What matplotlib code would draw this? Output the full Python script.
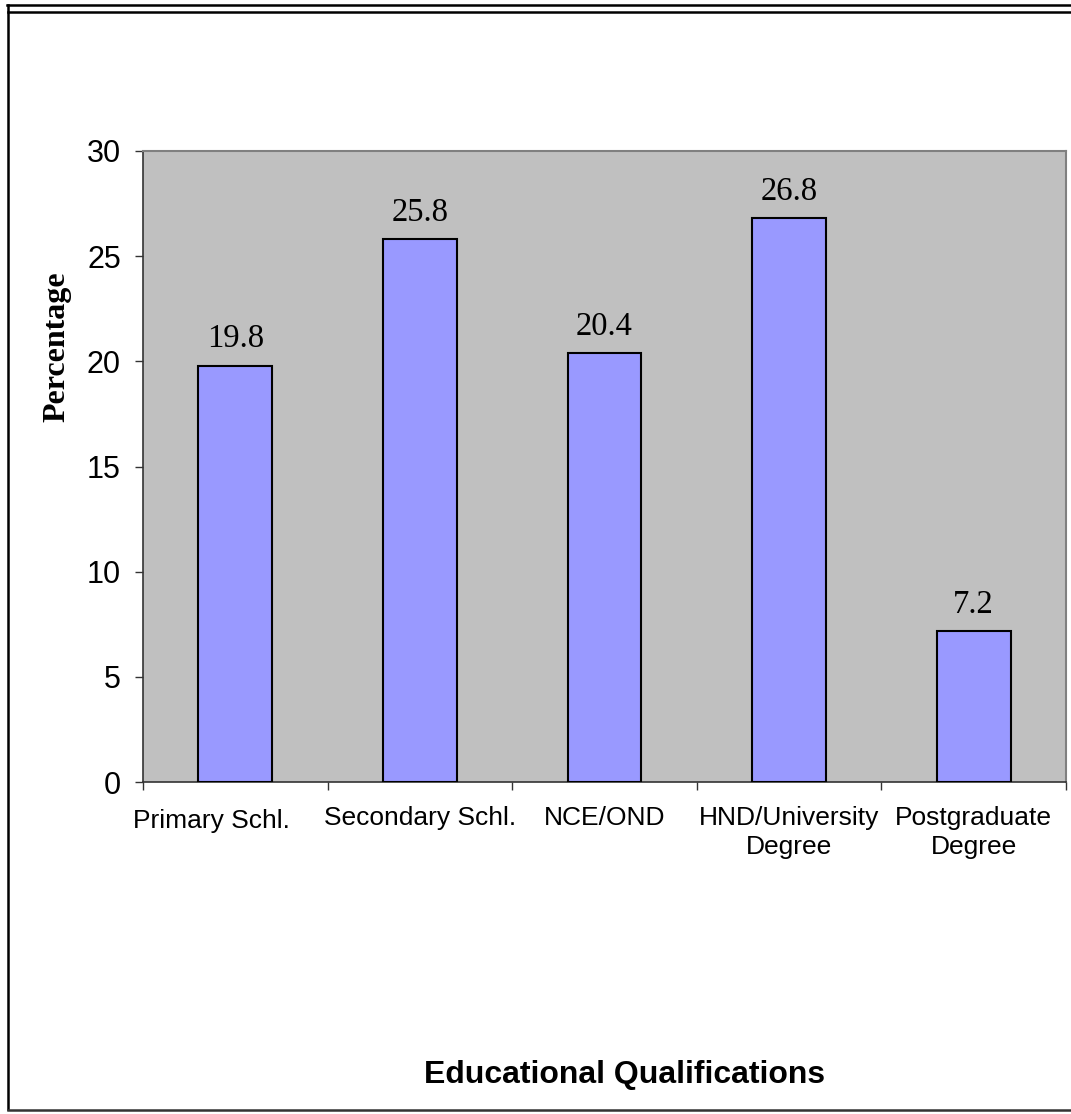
import matplotlib
matplotlib.use("Agg")
import matplotlib.pyplot as plt
from matplotlib.lines import Line2D
from matplotlib.transforms import ScaledTranslation
import numpy as np

categories = ["Primary Schl.", "Secondary Schl.", "NCE/OND",
              "HND/University\nDegree", "Postgraduate\nDegree"]
percentages = [19.8, 25.8, 20.4, 26.8, 7.2]
y_ticks = [0, 5, 10, 15, 20, 25, 30]

plt.rcParams['font.family'] = ['Liberation Sans', 'DejaVu Sans']

W, H = 1071, 1114
fig = plt.figure(figsize=(W / 100, H / 100), dpi=100)
ax = fig.add_axes([143 / W, 1 - 782 / H, (1066 - 143) / W, (782 - 151) / H])
ax.set_facecolor('#C0C0C0')

x = np.arange(len(categories))
bars = ax.bar(x, percentages, width=0.4, color='#9999FF',
              edgecolor='black', linewidth=1.5, zorder=3)

for xi, v in zip(x, percentages):
    ax.annotate(f"{v}", (xi, v), xytext=(0, 13), textcoords='offset points',
                ha='center', va='baseline', fontsize=23.5,
                family='Liberation Serif')

ax.set_xlim(-0.5, len(categories) - 0.5)
ax.set_ylim(0, 30)
ax.set_yticks(y_ticks)
ax.tick_params(axis='y', labelsize=22, length=6, width=1, color='#333333', pad=10)

# category boundaries get the tick marks, labels sit on the centres
ax.set_xticks(np.arange(len(categories) + 1) - 0.5)
ax.set_xticklabels([])
ax.set_xticks(x, minor=True)
ax.set_xticklabels(categories, minor=True, fontsize=19, linespacing=1.3)
ax.tick_params(axis='x', which='major', length=6, width=1, color='#333333')
ax.tick_params(axis='x', which='minor', length=0, pad=17)

# first label is pushed left and down a little
first = ax.xaxis.get_minor_ticks()[0].label1
first.set_transform(first.get_transform() + ScaledTranslation(-0.24, -0.03, fig.dpi_scale_trans))

for side in ('top', 'right'):
    ax.spines[side].set_color('#808080')
    ax.spines[side].set_linewidth(1.5)
for side in ('left', 'bottom'):
    ax.spines[side].set_color('#333333')
    ax.spines[side].set_linewidth(1.2)

fig.text(57 / W, 1 - 347 / H, "Percentage", rotation=90, ha='center',
         va='center', fontsize=23, fontweight='bold', family='Liberation Serif')
fig.text(625 / W, 1 - 1075 / H, "Educational Qualifications", ha='center',
         va='center', fontsize=23, fontweight='bold')

# outer frame lines
frame = dict(color='black', linewidth=1.8, transform=None)
fig.add_artist(Line2D([7, W], [H - 5, H - 5], **frame))
fig.add_artist(Line2D([8, W], [H - 12, H - 12], **frame))
fig.add_artist(Line2D([8, 8], [H - 5, H - 1109], **frame))
fig.add_artist(Line2D([8, W], [H - 1110, H - 1110], color='#333333',
                      linewidth=1.8, transform=None))

fig.savefig("out.png", dpi=100)
